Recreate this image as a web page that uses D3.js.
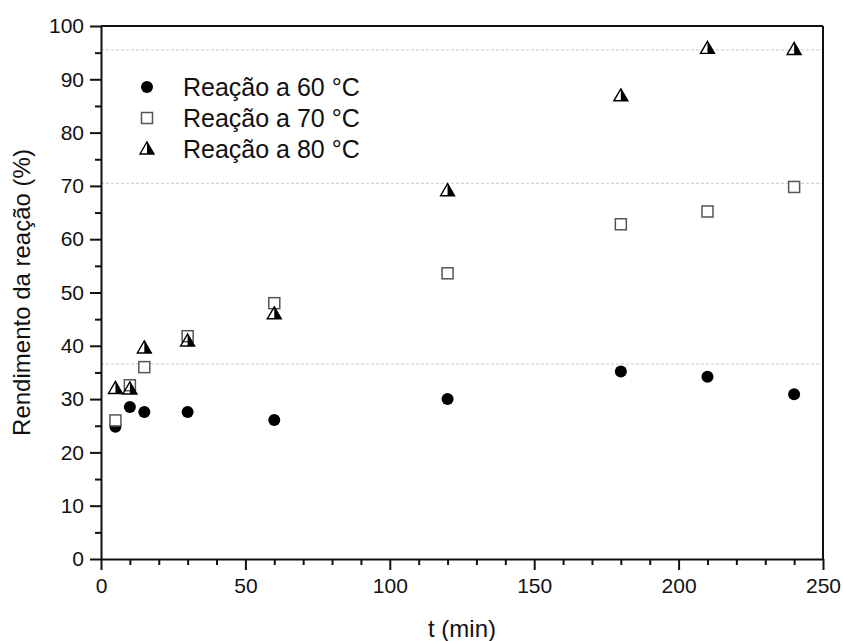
<!DOCTYPE html>
<html>
<head>
<meta charset="utf-8">
<script src="https://cdn.jsdelivr.net/npm/d3@7"></script>
<style>
  html, body { margin: 0; padding: 0; background: #fff; }
  svg { display: block; }
  text { font-family: "Liberation Sans", Arial, Helvetica, sans-serif; fill: #111; }
</style>
</head>
<body>
<svg id="chart" width="843" height="641"></svg>
<script>
// ---- data ----
const times = [5, 10, 15, 30, 60, 120, 180, 210, 240];
const yield60 = [24.8, 28.5, 27.6, 27.6, 26.1, 30.0, 35.2, 34.2, 30.9];
const yield70 = [26.0, 32.6, 36.0, 41.8, 48.0, 53.6, 62.8, 65.2, 69.8];
const yield80 = [32.0, 31.9, 39.6, 40.9, 46.0, 69.1, 86.9, 95.8, 95.6];
const seriesNames = ["Reação a 60 °C", "Reação a 70 °C", "Reação a 80 °C"];
const refLines = [95.5, 70.5, 36.6];
const xMajorTicks = [0, 50, 100, 150, 200, 250];
const yMajorTicks = [0, 10, 20, 30, 40, 50, 60, 70, 80, 90, 100];
const xLabel = "t (min)";
const yLabel = "Rendimento da reação (%)";

// ---- layout ----
const W = 843, H = 641;
const m = { left: 101, top: 26, right: 20, bottom: 82 };
const svg = d3.select("#chart");
const x = d3.scaleLinear().domain([0, 250]).range([m.left, W - m.right]);
const y = d3.scaleLinear().domain([0, 100]).range([H - m.bottom, m.top]);

// reference dashed lines
svg.append("g").selectAll("line").data(refLines).join("line")
  .attr("x1", x(0)).attr("x2", x(250))
  .attr("y1", d => y(d)).attr("y2", d => y(d))
  .attr("stroke", "#c8c8c8").attr("stroke-width", 1)
  .attr("stroke-dasharray", "3,2");

// axes
const xMinor = d3.range(0, 251, 10).filter(v => v % 50 !== 0);
const yMinor = d3.range(5, 100, 10);

const gx = svg.append("g").attr("transform", `translate(0,${y(0)})`)
  .call(d3.axisBottom(x).tickValues(xMajorTicks).tickSize(11).tickPadding(8).tickSizeOuter(0));
svg.append("g").attr("transform", `translate(0,${y(0)})`)
  .call(d3.axisBottom(x).tickValues(xMinor).tickSize(6).tickFormat("").tickSizeOuter(0))
  .select(".domain").remove();
const gy = svg.append("g").attr("transform", `translate(${x(0)},0)`)
  .call(d3.axisLeft(y).tickValues(yMajorTicks).tickSize(11).tickPadding(6).tickSizeOuter(0));
svg.append("g").attr("transform", `translate(${x(0)},0)`)
  .call(d3.axisLeft(y).tickValues(yMinor).tickSize(6).tickFormat("").tickSizeOuter(0))
  .select(".domain").remove();

svg.selectAll(".tick line").attr("stroke", "#111").attr("stroke-width", 2);
svg.selectAll(".domain").attr("stroke", "#111").attr("stroke-width", 2);
gx.selectAll("text").attr("font-size", 21).style("font-family", "'Liberation Sans', Arial, sans-serif");
gy.selectAll("text").attr("font-size", 21).style("font-family", "'Liberation Sans', Arial, sans-serif");

// frame top & right
svg.append("line").attr("x1", x(0)).attr("x2", x(250)).attr("y1", y(100)).attr("y2", y(100))
  .attr("stroke", "#111").attr("stroke-width", 2);
svg.append("line").attr("x1", x(250)).attr("x2", x(250)).attr("y1", y(100)).attr("y2", y(0))
  .attr("stroke", "#111").attr("stroke-width", 2);

// axis titles
svg.append("text").attr("x", (x(0) + x(250)) / 2).attr("y", 637)
  .attr("text-anchor", "middle").attr("font-size", 24).text(xLabel);
svg.append("text").attr("transform", `translate(30,${(y(0) + y(100)) / 2}) rotate(-90)`)
  .attr("text-anchor", "middle").attr("font-size", 24).text(yLabel);

// marker drawers
function drawCircle(g) {
  g.append("circle").attr("r", 6).attr("fill", "#000");
}
function drawSquare(g) {
  g.append("rect").attr("x", -5.5).attr("y", -5.5).attr("width", 11).attr("height", 11)
    .attr("fill", "#fff").attr("stroke", "#555").attr("stroke-width", 1.5);
}
function drawTriangle(g) {
  g.append("path").attr("d", "M0,-7L7,5L0,5Z").attr("fill", "#000");
  g.append("path").attr("d", "M0,-7L7,5L-7,5Z").attr("fill", "none")
    .attr("stroke", "#000").attr("stroke-width", 1.4).attr("stroke-linejoin", "miter");
}
const drawers = [drawCircle, drawSquare, drawTriangle];
const seriesVals = [yield60, yield70, yield80];

// draw in order: circles, squares, triangles
seriesVals.forEach((vals, si) => {
  const g = svg.append("g");
  times.forEach((t, i) => {
    const mk = g.append("g").attr("transform", `translate(${x(t)},${y(vals[i])})`);
    drawers[si](mk);
  });
});

// legend
const legRows = [87, 118, 149];
seriesNames.forEach((name, i) => {
  const mk = svg.append("g").attr("transform", `translate(147,${legRows[i]})`);
  drawers[i](mk);
  svg.append("text").attr("x", 183).attr("y", legRows[i]).attr("dy", "0.36em")
    .attr("font-size", 25).text(name);
});
</script>
</body>
</html>
